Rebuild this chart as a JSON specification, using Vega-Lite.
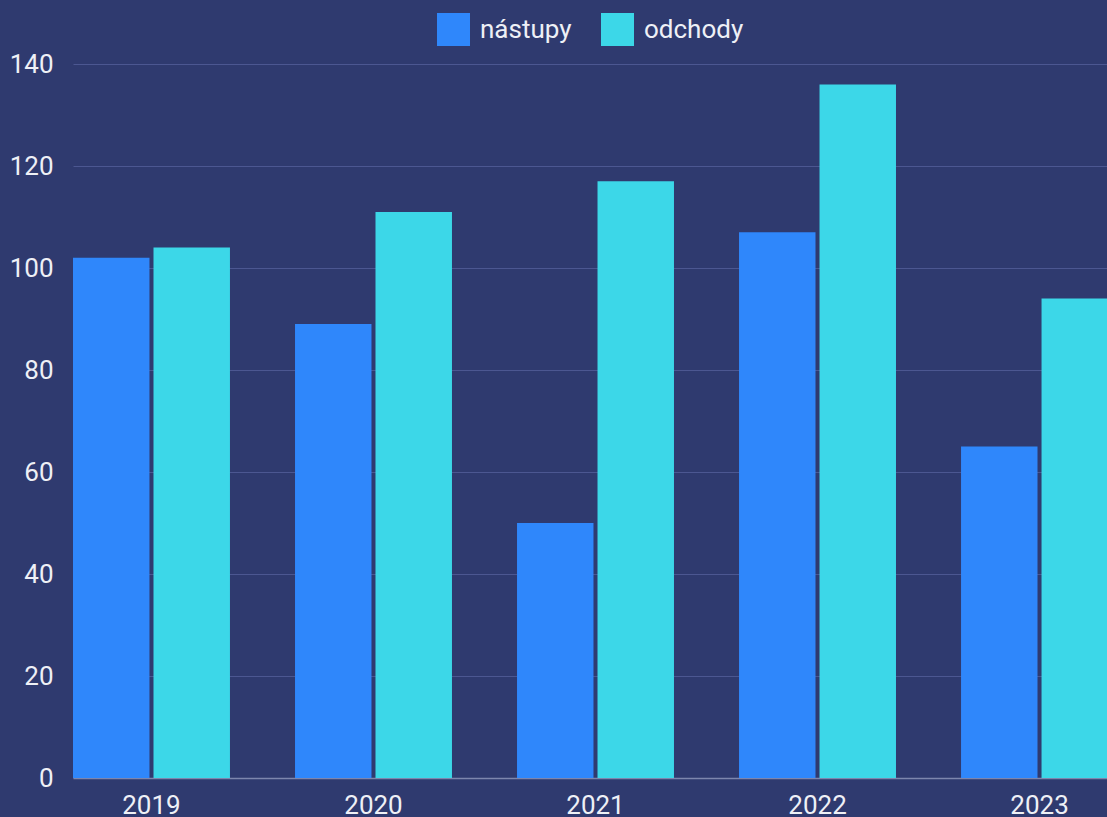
{
  "$schema": "https://vega.github.io/schema/vega-lite/v6.json",
  "autosize": {"type": "none"},
  "width": 1034,
  "height": 714,
  "padding": {"left": 73, "top": 64, "right": 0, "bottom": 39},
  "background": "#2f3a6f",
  "config": {
    "view": {"stroke": null},
    "font": "Roboto",
    "axis": {"labelFont": "Roboto", "labelColor": "#eef0f6", "labelFontSize": 26},
    "legend": {"layout": {"top": {"anchor": "middle"}}}
  },
  "data": {
    "values": [
      {"rok": "2019", "typ": "nástupy", "pocet": 102},
      {"rok": "2019", "typ": "odchody", "pocet": 104},
      {"rok": "2020", "typ": "nástupy", "pocet": 89},
      {"rok": "2020", "typ": "odchody", "pocet": 111},
      {"rok": "2021", "typ": "nástupy", "pocet": 50},
      {"rok": "2021", "typ": "odchody", "pocet": 117},
      {"rok": "2022", "typ": "nástupy", "pocet": 107},
      {"rok": "2022", "typ": "odchody", "pocet": 136},
      {"rok": "2023", "typ": "nástupy", "pocet": 65},
      {"rok": "2023", "typ": "odchody", "pocet": 94}
    ]
  },
  "mark": {"type": "bar", "clip": true},
  "encoding": {
    "x": {
      "field": "rok",
      "type": "nominal",
      "scale": {"range": [0, 1045], "paddingInner": 0.293, "paddingOuter": 0},
      "axis": {
        "title": null,
        "labelAngle": 0,
        "ticks": false,
        "domain": true,
        "domainColor": "#7d86ad",
        "domainWidth": 1.5,
        "labelPadding": 14,
        "grid": false
      }
    },
    "xOffset": {
      "field": "typ",
      "type": "nominal",
      "scale": {"paddingInner": 0.05, "paddingOuter": 0}
    },
    "y": {
      "field": "pocet",
      "type": "quantitative",
      "scale": {"domain": [0, 140]},
      "axis": {
        "title": null,
        "values": [0, 20, 40, 60, 80, 100, 120, 140],
        "domain": false,
        "ticks": false,
        "labelPadding": 20,
        "gridColor": "#4c5791",
        "gridWidth": 1
      }
    },
    "color": {
      "field": "typ",
      "type": "nominal",
      "scale": {"domain": ["nástupy", "odchody"], "range": ["#2f87fb", "#3cd7e8"]},
      "legend": {
        "title": null,
        "orient": "top",
        "direction": "horizontal",
        "symbolType": "square",
        "symbolSize": 1089,
        "symbolStrokeWidth": 0,
        "symbolOpacity": 1,
        "labelFont": "Roboto",
        "labelFontSize": 26,
        "labelColor": "#eef0f6",
        "labelOffset": 10,
        "columnPadding": 29,
        "offset": 18
      }
    }
  }
}
